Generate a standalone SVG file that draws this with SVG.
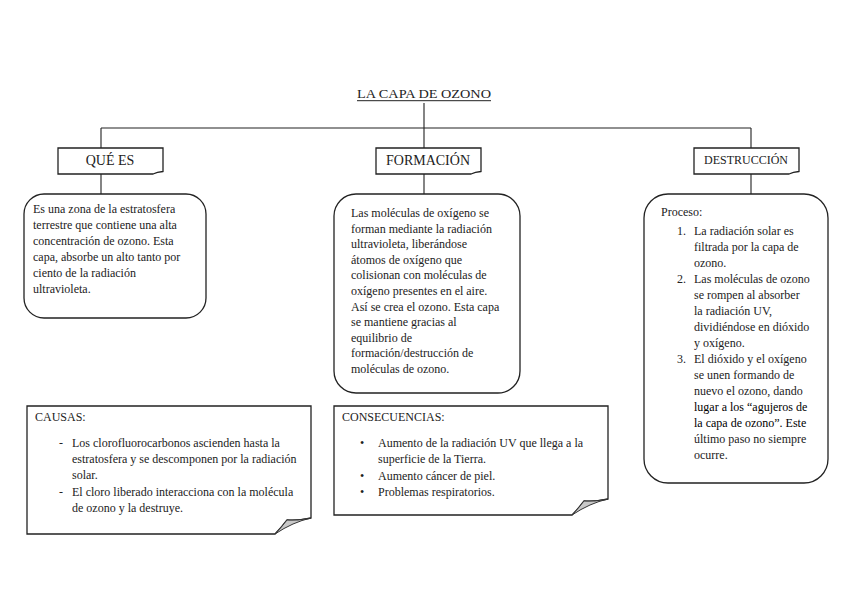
<svg xmlns="http://www.w3.org/2000/svg" width="848" height="599" viewBox="0 0 848 599">
<style>
text{font-family:"Liberation Serif","Times New Roman",serif;fill:#222;}
.t{font-size:12px;}
.h{font-size:14px;text-anchor:middle;}
.box{fill:#fff;stroke:#222;stroke-width:1.3;}
.fold{fill:#c8c8c8;stroke:#333;stroke-width:1;}
.conn{fill:none;stroke:#222;stroke-width:1.1;}
</style>
<rect width="848" height="599" fill="#fff"/>
<g id="connectors">
<path class="conn" d="M424 103V128M101 128H751M101 128V148M424 128V148M751 128V148M101 174V194M424 174V194M751 174V194"/>
</g>
<g id="title">
<text x="424" y="98" style="font-size:13px;text-anchor:middle" textLength="134" lengthAdjust="spacingAndGlyphs">LA CAPA DE OZONO</text>
<line x1="357" y1="100.7" x2="491" y2="100.7" stroke="#222" stroke-width="1"/>
</g>
<g id="que-es">
<path class="box" d="M58 148H163V171.5Q157 172 153 174H58Z"/>
<text class="h" x="110" y="165">QUÉ ES</text>
</g>
<g id="formacion">
<path class="box" d="M376 148H481V171.5Q475 172 471 174H376Z"/>
<text class="h" x="428" y="165">FORMACIÓN</text>
</g>
<g id="destruccion">
<path class="box" d="M694 148H799V171.5Q793 172 789 174H694Z"/>
<text class="h" x="746" y="164" style="font-size:12px">DESTRUCCIÓN</text>
</g>
<g id="que-es-desc">
<rect class="box" x="24" y="194" width="182" height="124" rx="20"/>
<text class="t" x="33" y="213">Es una zona de la estratosfera</text>
<text class="t" x="33" y="229">terrestre que contiene una alta</text>
<text class="t" x="33" y="245">concentración de ozono. Esta</text>
<text class="t" x="33" y="261">capa, absorbe un alto tanto por</text>
<text class="t" x="33" y="277">ciento de la radiación</text>
<text class="t" x="33" y="293">ultravioleta.</text>
</g>
<g id="formacion-desc">
<rect class="box" x="334" y="194" width="186" height="199" rx="22"/>
<text class="t" x="351" y="217">Las moléculas de oxígeno se</text>
<text class="t" x="351" y="232.6">forman mediante la radiación</text>
<text class="t" x="351" y="248.2">ultravioleta, liberándose</text>
<text class="t" x="351" y="263.8">átomos de oxígeno que</text>
<text class="t" x="351" y="279.4">colisionan con moléculas de</text>
<text class="t" x="351" y="295">oxígeno presentes en el aire.</text>
<text class="t" x="351" y="310.6">Así se crea el ozono. Esta capa</text>
<text class="t" x="351" y="326.2">se mantiene gracias al</text>
<text class="t" x="351" y="341.8">equilibrio de</text>
<text class="t" x="351" y="357.4">formación/destrucción de</text>
<text class="t" x="351" y="373">moléculas de ozono.</text>
</g>
<g id="destruccion-desc">
<rect class="box" x="644" y="194" width="184" height="289" rx="24"/>
<text class="t" x="661" y="216">Proceso:</text>
<text class="t" x="677" y="235">1.</text>
<text class="t" x="694" y="235">La radiación solar es</text>
<text class="t" x="694" y="251">filtrada por la capa de</text>
<text class="t" x="694" y="267">ozono.</text>
<text class="t" x="677" y="283">2.</text>
<text class="t" x="694" y="283">Las moléculas de ozono</text>
<text class="t" x="694" y="299">se rompen al absorber</text>
<text class="t" x="694" y="315">la radiación UV,</text>
<text class="t" x="694" y="331">dividiéndose en dióxido</text>
<text class="t" x="694" y="347">y oxígeno.</text>
<text class="t" x="677" y="363">3.</text>
<text class="t" x="694" y="363">El dióxido y el oxígeno</text>
<text class="t" x="694" y="379">se unen formando de</text>
<text class="t" x="694" y="395">nuevo el ozono, dando</text>
<text class="t" x="694" y="411" style="fill:#000">lugar a los “agujeros de</text>
<text class="t" x="694" y="427" style="fill:#000">la capa de ozono”. Este</text>
<text class="t" x="694" y="443">último paso no siempre</text>
<text class="t" x="694" y="459">ocurre.</text>
</g>
<g id="causas">
<path class="box" d="M27 406H311V518Q297 521 287 520Q281 528 275 534H27Z"/>
<path class="fold" d="M311 518Q297 521 287 520Q281 528 275 534Q293 522 311 518Z"/>
<text class="t" x="35" y="421">CAUSAS:</text>
<text class="t" x="59" y="447">-</text>
<text class="t" x="72" y="447">Los clorofluorocarbonos ascienden hasta la</text>
<text class="t" x="72" y="463">estratosfera y se descomponen por la radiación</text>
<text class="t" x="72" y="479">solar.</text>
<text class="t" x="59" y="496">-</text>
<text class="t" x="72" y="496">El cloro liberado interacciona con la molécula</text>
<text class="t" x="72" y="512">de ozono y la destruye.</text>
</g>
<g id="consecuencias">
<path class="box" d="M334 406H608V499Q594 502 584 501Q578 509 572 515H334Z"/>
<path class="fold" d="M608 499Q594 502 584 501Q578 509 572 515Q590 503 608 499Z"/>
<text class="t" x="342" y="421">CONSECUENCIAS:</text>
<text class="t" x="360" y="447">•</text>
<text class="t" x="378" y="447">Aumento de la radiación UV que llega a la</text>
<text class="t" x="378" y="463">superficie de la Tierra.</text>
<text class="t" x="360" y="480">•</text>
<text class="t" x="378" y="480">Aumento cáncer de piel.</text>
<text class="t" x="360" y="496">•</text>
<text class="t" x="378" y="496">Problemas respiratorios.</text>
</g>
</svg>
